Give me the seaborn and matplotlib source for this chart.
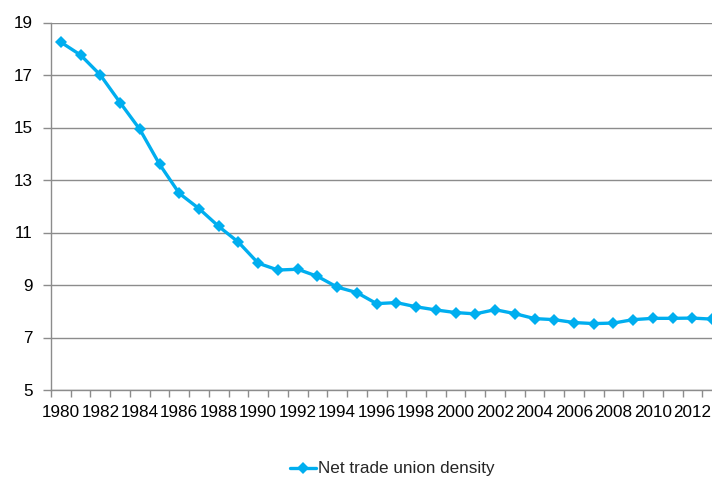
import numpy as np
import pandas as pd
import matplotlib
matplotlib.use("Agg")
import matplotlib.pyplot as plt
import seaborn as sns

years = list(range(1980, 2014))
density = [18.25, 17.76, 17.0, 15.95, 14.93, 13.6, 12.49, 11.91, 11.23, 10.63,
           9.83, 9.57, 9.6, 9.33, 8.92, 8.71, 8.29, 8.33, 8.17, 8.05,
           7.95, 7.9, 8.06, 7.91, 7.72, 7.68, 7.57, 7.53, 7.55, 7.68,
           7.73, 7.73, 7.74, 7.7]
series_name = "Net trade union density"
y_ticks = [5, 7, 9, 11, 13, 15, 17, 19]

df = pd.DataFrame({"year": years, "value": density, "series": series_name})

sns.set_theme(style="white")
plt.rcParams["font.family"] = ["Liberation Sans", "DejaVu Sans"]

fs = 12.3
fig = plt.figure(figsize=(7.12, 4.78), dpi=100)
ax = fig.add_axes([51 / 712, 1 - 390 / 478, 671 / 712, (390 - 22.5) / 478])

blue = "#00AEEF"
grid_col = "#8C8C8C"

sns.lineplot(data=df, x="year", y="value", hue="series", palette=[blue],
             marker="D", markersize=6.5, markeredgewidth=0, linewidth=2.4,
             ax=ax)

ax.set_xlim(years[0] - 0.5, years[-1] + 0.5)
ax.set_ylim(5, 19)
ax.set_yticks(y_ticks)
ax.set_yticklabels([str(t) for t in y_ticks], fontsize=fs)
ax.set_xticks(years[::2])
ax.set_xticklabels([str(y) for y in years[::2]], fontsize=fs)
ax.set_xticks(np.arange(years[0] - 0.5, years[-1] + 1.0, 1.0), minor=True)
ax.tick_params(axis="x", which="major", length=0, pad=11, colors="black")
ax.tick_params(axis="x", which="minor", length=5, width=1, color=grid_col,
               direction="out", bottom=True)
ax.tick_params(axis="y", length=6, width=1, color=grid_col, direction="out",
               left=True, pad=7)
ax.tick_params(axis="y", colors=grid_col, labelcolor="black")

ax.yaxis.grid(True, color=grid_col, linewidth=1.0)
ax.set_axisbelow(True)
for side in ["top", "right"]:
    ax.spines[side].set_visible(False)
for side in ["left", "bottom"]:
    ax.spines[side].set_color(grid_col)
    ax.spines[side].set_linewidth(1.0)

ax.set_xlabel("")
ax.set_ylabel("")

handles, labels = ax.get_legend_handles_labels()
ax.legend_.remove()
fig.legend(handles, labels, loc="center", bbox_to_anchor=(0.551, 1 - 469 / 478),
           frameon=False, fontsize=fs, handlelength=1.5, handletextpad=0.1,
           borderaxespad=0)

fig.savefig("out.png", dpi=100)
